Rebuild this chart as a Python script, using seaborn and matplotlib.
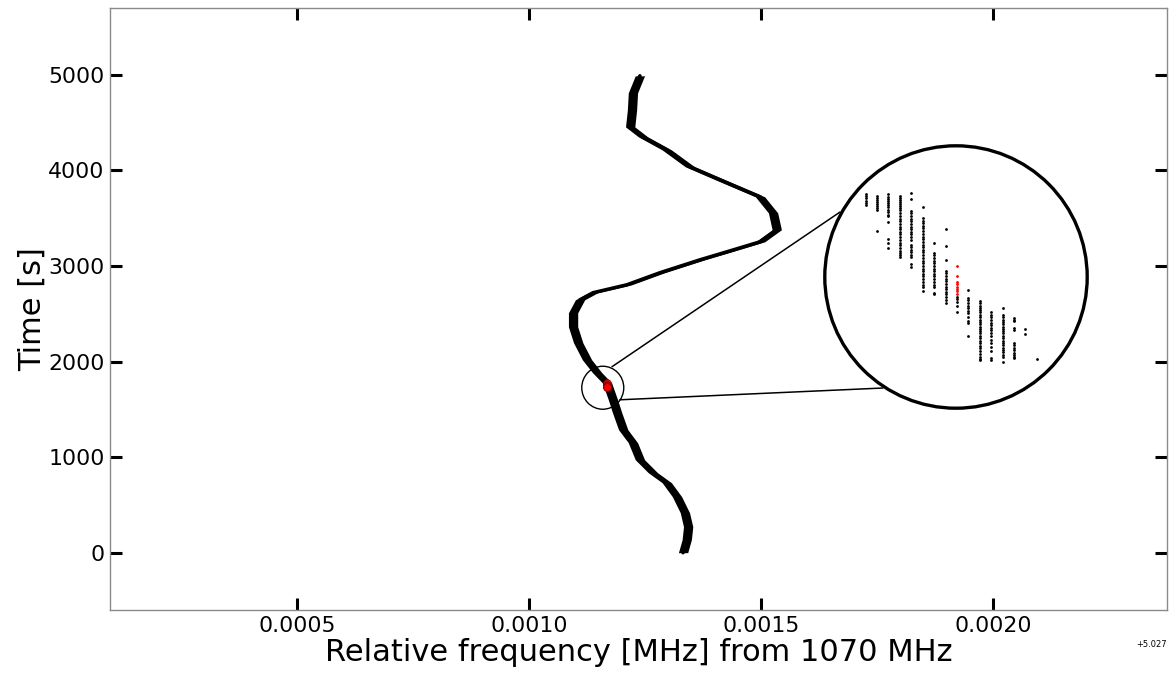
import numpy as np
import pandas as pd
import matplotlib
matplotlib.use("Agg")
import matplotlib.pyplot as plt
import seaborn as sns
from matplotlib.patches import Circle, Ellipse, ConnectionPatch
from matplotlib.ticker import ScalarFormatter, FixedLocator

sns.set_style("white")
plt.rcParams["font.family"] = ["DejaVu Sans"]
plt.rcParams["text.color"] = "black"
plt.rcParams["axes.labelcolor"] = "black"
plt.rcParams["xtick.color"] = "black"
plt.rcParams["ytick.color"] = "black"

# ---------------- data ----------------
FREQ_OFFSET = 5.027  # MHz, shown as axis offset

# centre line of the drifting signal (time [s], relative frequency [MHz] minus offset)
track_time = [0, 136, 272, 418, 586, 732, 837, 973, 1151, 1287, 1464, 1600, 1778,
              1883, 2019, 2197, 2364, 2510, 2646, 2720, 2803, 2929, 3065, 3149,
              3253, 3379, 3556, 3724, 3902, 4038, 4215, 4351, 4456, 4634, 4812, 4990]
track_freq = [0.001332, 0.001340, 0.001343, 0.001336, 0.001319, 0.001297, 0.001267,
              0.001239, 0.001224, 0.001203, 0.001190, 0.001181, 0.001168, 0.001147,
              0.001125, 0.001106, 0.001095, 0.001095, 0.001110, 0.001138, 0.001211,
              0.001282, 0.001369, 0.001427, 0.001498, 0.001534, 0.001526, 0.001498,
              0.001412, 0.001347, 0.001297, 0.001246, 0.001218, 0.001222, 0.001224,
              0.001239]

# zoomed detections: one frequency bin per column, with the times of the hits
zoom_freq_bins = [0.0011365, 0.0011403, 0.0011443, 0.0011483, 0.0011521, 0.0011561,
                  0.0011601, 0.0011640, 0.0011677, 0.0011717, 0.0011756, 0.0011795,
                  0.0011835, 0.0011874, 0.0011913, 0.0011953]
zoom_times = [
    [1895, 1892, 1888, 1884, 1880, 1877],
    [1892, 1889, 1885, 1882, 1879, 1875, 1872, 1869, 1833],
    [1895, 1891, 1887, 1883, 1880, 1877, 1873, 1869, 1865, 1861, 1858, 1849, 1820, 1813, 1806],
    [1892, 1889, 1885, 1882, 1879, 1875, 1872, 1868, 1863, 1859, 1854, 1850, 1845, 1841,
     1837, 1832, 1828, 1823, 1819, 1814, 1810, 1805, 1801, 1797, 1793, 1790],
    [1897, 1887, 1867, 1863, 1859, 1854, 1850, 1845, 1841, 1837, 1832, 1828, 1823, 1819,
     1810, 1807, 1802, 1798, 1794, 1791, 1779, 1773],
    [1874, 1855, 1851, 1847, 1842, 1838, 1833, 1829, 1824, 1820, 1815, 1811, 1807, 1802,
     1798, 1793, 1789, 1784, 1780, 1775, 1771, 1767, 1762, 1758, 1753, 1749, 1744, 1740, 1733],
    [1814, 1797, 1793, 1789, 1784, 1780, 1775, 1771, 1767, 1762, 1758, 1753, 1749, 1744, 1741, 1731, 1729],
    [1837, 1809, 1785, 1767, 1763, 1759, 1754, 1750, 1745, 1741, 1737, 1732, 1728, 1723, 1719, 1714],
    [1724, 1720, 1715, 1708, 1699],
    [1735, 1722, 1718, 1713, 1709, 1705, 1701, 1697, 1691, 1683, 1681, 1658],
    [1717, 1713, 1709, 1705, 1702, 1698, 1694, 1690, 1686, 1682, 1678, 1674, 1670, 1667,
     1663, 1659, 1655, 1651, 1647, 1642, 1638, 1633, 1629, 1624, 1621, 1619],
    [1698, 1694, 1690, 1685, 1681, 1677, 1672, 1668, 1663, 1658, 1652, 1647, 1641, 1633, 1622, 1618],
    [1705, 1694, 1690, 1686, 1682, 1678, 1674, 1670, 1667, 1663, 1659, 1655, 1651, 1647,
     1643, 1639, 1635, 1632, 1627, 1623, 1616],
    [1689, 1685, 1683, 1672, 1669, 1647, 1643, 1639, 1635, 1631, 1627, 1623, 1622],
    [1670, 1662],
    [1620],
]
# highlighted (red) detections
red_freq = 0.0011677
red_times = [1775, 1758, 1749, 1745, 1741, 1737, 1733, 1729]

x_ticks = [0.0005, 0.0010, 0.0015, 0.0020]
y_ticks = [0, 1000, 2000, 3000, 4000, 5000]
x_limits = (0.0000970, 0.002375)
y_limits = (-600, 5700)

# zoom window (centre and half-size) and the marker ring on the main plot
zoom_center = (0.0011675, 1757)
zoom_half = (4.53e-5, 220)
ring_center = (0.001159, 1726)
ring_size = (9.05e-5, 450)
conn_main = [(0.0011789, 1946), (0.0011960, 1600)]
conn_inset = [(0.0606, 0.746), (0.2235, 0.0795)]

# ---------------- frames ----------------
track = pd.DataFrame({"freq": np.array(track_freq) + FREQ_OFFSET, "time": track_time})
zf, zt = [], []
for f, ts in zip(zoom_freq_bins, zoom_times):
    zf += [f + FREQ_OFFSET] * len(ts)
    zt += ts
zoom_df = pd.DataFrame({"freq": zf, "time": zt})
red_df = pd.DataFrame({"freq": [red_freq + FREQ_OFFSET] * len(red_times), "time": red_times})

# ---------------- figure ----------------
W, H = 1171, 677
fig = plt.figure(figsize=(W / 100, H / 100), dpi=100)
ax = fig.add_axes([110 / W, 67 / H, 1057 / W, 602 / H])

band = 1.0e-5
ax.fill_betweenx(track["time"], track["freq"] - band, track["freq"] + band,
                 color="black", lw=0, zorder=2)
sns.lineplot(data=track, x="freq", y="time", sort=False, estimator=None,
             color="black", lw=2.6, ax=ax, zorder=3)
sns.scatterplot(data=red_df, x="freq", y="time", color="red", edgecolor="#7a0000",
                linewidth=0.5, s=30, ax=ax, zorder=5)

ax.set_xlim(x_limits[0] + FREQ_OFFSET, x_limits[1] + FREQ_OFFSET)
ax.set_ylim(*y_limits)
ax.xaxis.set_major_locator(FixedLocator([t + FREQ_OFFSET for t in x_ticks]))
ax.yaxis.set_major_locator(FixedLocator(y_ticks))
fmt = ScalarFormatter(useOffset=FREQ_OFFSET)
ax.xaxis.set_major_formatter(fmt)
ax.tick_params(direction="in", length=8.5, width=2.2, color="black", labelcolor="black",
               labelsize=15.8, pad=4, top=True, right=True, bottom=True, left=True)
ax.xaxis.get_offset_text().set_fontsize(6)
ax.xaxis.get_offset_text().set_color("black")
for sp in ax.spines.values():
    sp.set_color("#8a8a8a")
    sp.set_linewidth(1.0)
ax.set_xlabel("Relative frequency [MHz] from 1070 MHz", fontsize=22, labelpad=2, color="black")
ax.set_ylabel("Time [s]", fontsize=22, labelpad=1, color="black")
ax.grid(False)

# ring around the zoomed region
ring = Ellipse((ring_center[0] + FREQ_OFFSET, ring_center[1]), ring_size[0], ring_size[1],
               fill=False, ec="black", lw=1.0, zorder=6)
ax.add_patch(ring)

# ---------------- inset ----------------
ins = fig.add_axes([824 / W, 1 - 409 / H, 264 / W, 264 / H], zorder=10)
ins.set_xlim(zoom_center[0] - zoom_half[0] + FREQ_OFFSET, zoom_center[0] + zoom_half[0] + FREQ_OFFSET)
ins.set_ylim(zoom_center[1] - zoom_half[1], zoom_center[1] + zoom_half[1])
ins.axis("off")
disc = Circle((0.5, 0.5), 0.497, transform=ins.transAxes, fc="white", ec="black",
              lw=2.4, zorder=0, clip_on=False)
ins.add_patch(disc)
sns.scatterplot(data=zoom_df, x="freq", y="time", color="black", s=4, linewidth=0,
                ax=ins, zorder=2)
sns.scatterplot(data=red_df, x="freq", y="time", color="red", s=4, linewidth=0,
                ax=ins, zorder=3)
for coll in ins.collections:
    coll.set_clip_path(disc)
ins.set_xlabel("")
ins.set_ylabel("")

for (pm, pi) in zip(conn_main, conn_inset):
    con = ConnectionPatch(xyA=(pm[0] + FREQ_OFFSET, pm[1]), coordsA=ax.transData,
                          xyB=pi, coordsB=ins.transAxes, color="black", lw=1.1, zorder=4)
    fig.add_artist(con)

fig.savefig("out.png", dpi=100)
